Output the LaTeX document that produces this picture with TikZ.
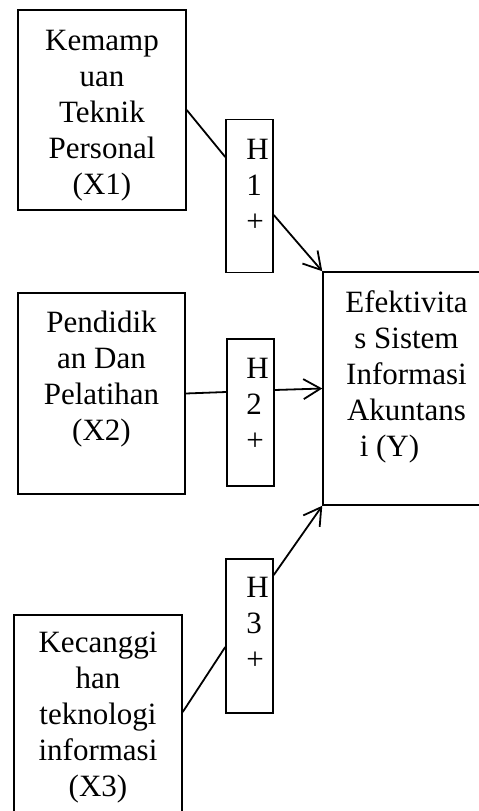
\documentclass[tikz,border=0pt]{standalone}
\usepackage{fontspec}
\setmainfont{Liberation Serif}
\usepackage{tikz}
\usetikzlibrary{arrows.meta,positioning}
\tikzset{
  varbox/.style={
    draw,
    line width=1.5pt,
    inner sep=0pt
  },
  vartext/.style={
    inner sep=0pt,
    align=center,
    font=\fontsize{31}{36}\selectfont
  },
  hyptext/.style={
    inner sep=0pt,
    align=left,
    font=\fontsize{31}{36}\selectfont
  },
  hypline/.style={
    line width=1.8pt
  },
  hyparrow/.style={
    -{Straight Barb[length=17pt,width=20pt]},
    line width=1.8pt
  }
}

\begin{document}
\begin{tikzpicture}[x=1pt, y=-1pt]
  \useasboundingbox (0,0) rectangle (479,811);
  \clip (0,0) rectangle (479,811);

  % variable boxes
  \node[varbox, minimum width=168pt, minimum height=200pt] (x1) at (102,110) {};
  \node[varbox, minimum width=167pt, minimum height=201pt] (x2) at (101.5,393.5) {};
  \node[varbox, minimum width=168pt, minimum height=200pt] (x3) at (98,715) {};
  \node[varbox, minimum width=167pt, minimum height=233pt] (y) at (406.5,388.5) {};

  % hypothesis boxes
  \node[varbox, minimum width=47pt, minimum height=153pt] (h1) at (249.5,196) {};
  \node[varbox, minimum width=47pt, minimum height=147pt] (h2) at (250.5,412.5) {};
  \node[varbox, minimum width=47pt, minimum height=154pt] (h3) at (249.5,636) {};

  % texts
  \node[vartext, below=21pt of x1.north] (x1txt) {Kemamp\\uan\\Teknik\\Personal\\(X1)};
  \node[vartext, below=19pt of x2.north] (x2txt) {Pendidik\\an Dan\\Pelatihan\\(X2)};
  \node[vartext, below=18pt of x3.north] (x3txt) {Kecanggi\\han\\teknologi\\informasi\\(X3)};
  \node[vartext, below=19pt of y.north] (ytxt) {Efektivita\\s Sistem\\Informasi\\Akuntans\\i (Y)\hspace*{34pt}};
  \node[hyptext, below right=20pt and 21pt of h1.north west] (h1txt) {H\\1\\+};
  \node[hyptext, below right=20pt and 20pt of h2.north west] (h2txt) {H\\2\\+};
  \node[hyptext, below right=19pt and 21pt of h3.north west] (h3txt) {H\\3\\+};

  % connectors
  \draw[hypline] (x1.east) -- ([yshift=39pt]h1.west);
  \draw[hyparrow] ([yshift=-19pt]h1.east) -- (y.north west);
  \draw[hypline] (x2.east) -- ([yshift=20.5pt]h2.west);
  \draw[hyparrow] ([yshift=22.5pt]h2.east) -- (y.west);
  \draw[hypline] ([yshift=3pt]x3.east) -- ([yshift=-11pt]h3.west);
  \draw[hyparrow] ([yshift=61pt]h3.east) -- (y.south west);
\end{tikzpicture}
\end{document}
